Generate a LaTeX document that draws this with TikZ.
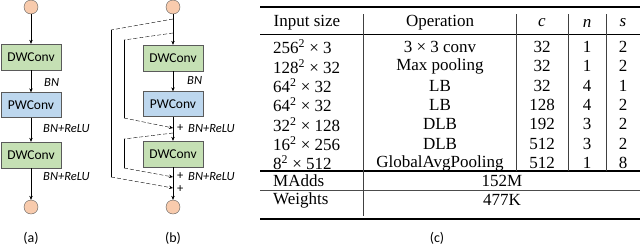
\documentclass[tikz,border=0pt]{standalone}
\usepackage{fontspec}
\setmainfont{Liberation Serif}
\newfontfamily\diafont{Carlito}
\usepackage{tikz}
\usetikzlibrary{arrows.meta,positioning,calc}
\definecolor{dwgreen}{RGB}{197,224,180}
\definecolor{pwblue}{RGB}{189,215,238}
\definecolor{iopeach}{RGB}{248,203,173}
\definecolor{edgegray}{RGB}{90,90,90}

\begin{document}
\begin{tikzpicture}[x=1pt, y=-1pt,
        >={Stealth[length=4pt,width=3.4pt]},
        io/.style={circle, draw=edgegray, fill=iopeach, minimum size=14pt, inner sep=0pt},
        dw/.style={draw=edgegray, fill=dwgreen, minimum width=60pt, minimum height=26pt,
            inner sep=0pt, font=\diafont\fontsize{13.5}{15}\selectfont},
        pw/.style={dw, fill=pwblue, minimum height=25pt},
        lbl/.style={anchor=west, inner sep=0pt, font=\diafont\itshape\fontsize{12.5}{14}\selectfont},
        plus/.style={anchor=west, inner sep=0pt, text height=6pt, text depth=0pt,
            font=\diafont\fontsize{12.5}{14}\selectfont},
        subcap/.style={font=\diafont\fontsize{14}{16}\selectfont},
        line/.style={->, thin},
        skip/.style={dashed, dash pattern=on 4pt off 2pt, thin},
        cell/.style={inner sep=0pt, font=\fontsize{17}{19}\selectfont},
        rule/.style={line width=1.5pt},
        vrule/.style={line width=0.7pt, black!75}]
    \useasboundingbox (0,0) rectangle (640,247);

    % (a) plain block
    \node[io] (ain) at (31,7) {};
    \node[dw] (adw1) at (31,57) {DWConv};
    \node[pw] (apw) at (31,105) {PWConv};
    \node[dw] (adw2) at (31,155) {DWConv};
    \node[io] (aout) at (31,207) {};
    \draw[line] (ain) -- (adw1);
    \draw[line] (adw1) -- (apw);
    \draw[line] (apw) -- (adw2);
    \draw[line] (adw2) -- (aout);
    \node[lbl] (abn) at (44,82) {BN};
    \node[lbl] (abr1) at (43,129) {BN+ReLU};
    \node[lbl] (abr2) at (43,177) {BN+ReLU};
    \node[subcap] (acap) at (31,238) {(a)};

    % (b) block with dense skips
    \node[io] (bin) at (173,7) {};
    \node[dw] (bdw1) at (173,58) {DWConv};
    \node[pw] (bpw) at (173,104) {PWConv};
    \node[dw] (bdw2) at (173,154) {DWConv};
    \node[io] (bout) at (173,207) {};
    \draw[line] (bin) -- (bdw1);
    \draw[line] (bdw1) -- (bpw);
    \draw[line] (bpw) -- (bdw2);
    \draw[line] (bdw2) -- (bout);
    \coordinate (s1) at (173,19);
    \coordinate (s2) at (173,33);
    \coordinate (s3) at (173,133);
    \coordinate (j1) at (173,128);
    \coordinate (j2) at (173,177);
    \coordinate (j3) at (173,188);
    \coordinate (o1) at (111,30);
    \coordinate (o2) at (111,177);
    \coordinate (p1) at (124,40);
    \coordinate (p2) at (124,118);
    \coordinate (q1) at (124,139);
    \coordinate (q2) at (124,168);
    \draw[skip] (s1) -- (o1);
    \draw[thin] (o1) -- (o2);
    \draw[skip, ->] (o2) -- (j3);
    \draw[skip] (s2) -- (p1);
    \draw[thin] (p1) -- (p2);
    \draw[skip, ->] (p2) -- (j1);
    \draw[skip] (s3) -- (q1);
    \draw[thin] (q1) -- (q2);
    \draw[skip, ->] (q2) -- (j2);
    \node[lbl] (bbn) at (187,80) {BN};
    \node[plus] (bp1) at (177,128) {+};
    \node[lbl] (bbr1) at (188,129) {BN+ReLU};
    \node[plus] (bp2) at (177,176) {+};
    \node[lbl] (bbr2) at (188,177) {BN+ReLU};
    \node[plus] (bp3) at (177,189) {+};
    \node[subcap] (bcap) at (173,238) {(b)};

    % (c) architecture table
    \draw[rule] (260,7) -- (640,7);
    \draw[line width=0.9pt] (260,34) -- (640,34);
    \draw[line width=1.1pt] (260,171) -- (640,171);
    \draw[line width=0.8pt, black!70] (260,190) -- (640,190);
    \draw[rule] (260,219) -- (640,219);
    \draw[vrule] (363,14) -- (363,216);
    \foreach \x in {516,568,606}
        \draw[vrule] (\x,14) -- (\x,171);
    \node[cell] (hin) at (307,23) {Input size};
    \node[cell] (hop) at (440,23) {Operation};
    \node[cell] (hc) at (542,23) {\textit{c}};
    \node[cell] (hn) at (587,23) {\textit{n}};
    \node[cell] (hs) at (623,23) {\textit{s}};
    \foreach \y/\sz/\op/\c/\n/\s [count=\r] in {
            47/256\textsuperscript{2} × 3/3 × 3 conv/32/1/2,
            66.3/128\textsuperscript{2} × 32/Max pooling/32/1/2,
            85.7/64\textsuperscript{2} × 32/LB/32/4/1,
            105/64\textsuperscript{2} × 32/LB/128/4/2,
            124.3/32\textsuperscript{2} × 128/DLB/192/3/2,
            143.7/16\textsuperscript{2} × 256/DLB/512/3/2,
            163/8\textsuperscript{2} × 512/GlobalAvgPooling/512/1/8} {
        \node[cell, anchor=west] (in\r) at (273,\y) {\sz};
        \node[cell] (op\r) at (440,\y) {\op};
        \node[cell] (c\r) at (542,\y) {\c};
        \node[cell] (n\r) at (587,\y) {\n};
        \node[cell] (s\r) at (623,\y) {\s};
    }
    \node[cell, anchor=west] (madds) at (273,181) {MAdds};
    \node[cell] (maddsv) at (502,181) {152M};
    \node[cell, anchor=west] (wts) at (273,200) {Weights};
    \node[cell] (wtsv) at (502,200) {477K};
    \node[subcap] (ccap) at (437,238) {(c)};
\end{tikzpicture}
\end{document}
